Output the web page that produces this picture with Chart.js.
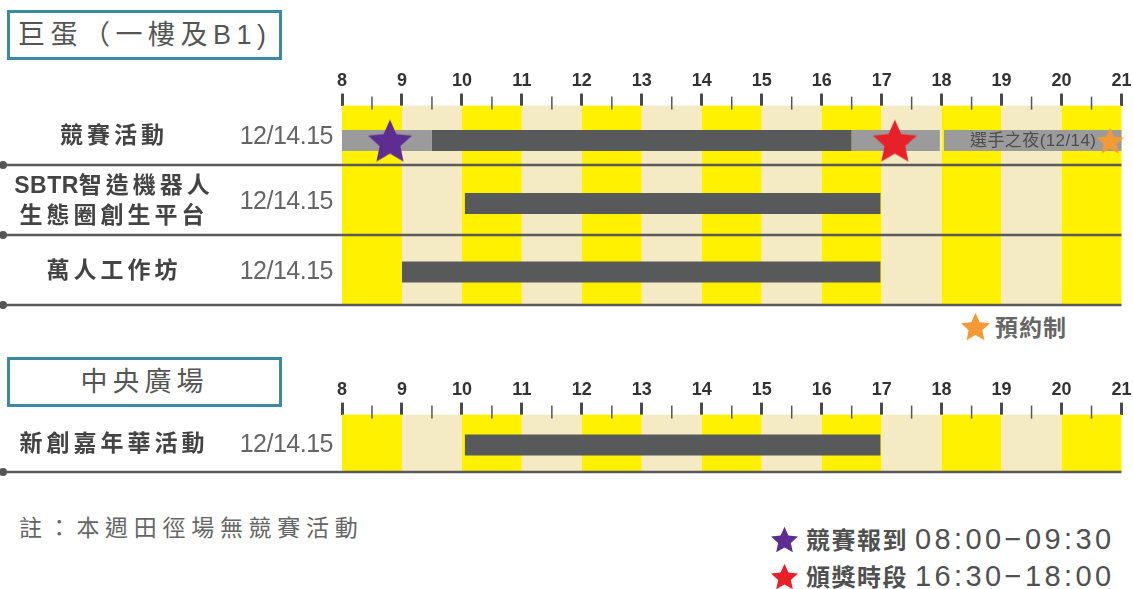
<!DOCTYPE html>
<html><head><meta charset="utf-8">
<script src="https://cdn.jsdelivr.net/npm/chart.js@4"></script>
<style>
html,body{margin:0;padding:0;background:#fff;}
body{width:1133px;height:589px;position:relative;overflow:hidden;font-family:"Liberation Sans","Noto Sans CJK TC",sans-serif;}
.abs{position:absolute;white-space:nowrap;}
.box{position:absolute;left:7px;width:269px;height:44px;border:3px solid #3b8aa2;color:#555;font-family:"Liberation Sans","Noto Sans CJK TC",sans-serif;font-size:27px;line-height:44px;}
canvas.chart{position:absolute;left:0;}
.name{position:absolute;left:0;width:228px;text-align:center;font-weight:bold;font-size:23px;letter-spacing:4px;color:#444;line-height:30px;white-space:nowrap;}
.name .lat{letter-spacing:0.5px;}
.date{position:absolute;right:800px;font-size:25px;letter-spacing:-0.5px;color:#666;line-height:30px;white-space:nowrap;}
.leg{position:absolute;left:771px;color:#505050;white-space:nowrap;line-height:30px;}
.leg b{font-weight:bold;font-size:24px;letter-spacing:1.5px;}
.leg span{font-size:29px;letter-spacing:3.4px;margin-left:7px;}
</style>
</head><body>

<div class="box" style="top:10px;"><span style="padding-left:8px;letter-spacing:5.5px;">巨蛋（一樓及B1)</span></div>
<div class="box" style="top:357px;text-align:center;letter-spacing:5px;">中央廣場</div>

<canvas id="top" class="chart" width="1133" height="250" style="top:60px;"></canvas>
<canvas id="bottom" class="chart" width="1133" height="109" style="top:369px;"></canvas>

<div class="abs" style="left:961px;top:312px;font-size:23px;font-weight:bold;color:#666;line-height:30px;letter-spacing:1px;"><canvas id="starReserve" width="29" height="29" style="vertical-align:-5px;margin-right:5px;"></canvas>預約制</div>

<div class="abs" style="left:19px;top:513px;font-size:23px;color:#666;letter-spacing:5.7px;line-height:30px;">註：本週田徑場無競賽活動</div>

<div class="leg" style="top:524px;"><canvas id="starCheck" width="27" height="27" style="vertical-align:-4px;margin-right:8px;"></canvas><b>競賽報到</b><span>08:00−09:30</span></div>
<div class="leg" style="top:561px;"><canvas id="starAward" width="27" height="27" style="vertical-align:-4px;margin-right:8px;"></canvas><b>頒獎時段</b><span>16:30−18:00</span></div>

<script>
// ---------- data ----------
const hourTicks = [8, 9, 10, 11, 12, 13, 14, 15, 16, 17, 18, 19, 20, 21];
const topRows = ['競賽活動', 'SBTR智造機器人|生態圈創生平台', '萬人工作坊'];
const topDates = ['12/14.15', '12/14.15', '12/14.15'];
const topBarStart = [9.5, 10.05, 9.0];
const topBarEnd = [16.5, 16.98, 16.98];
const row1ShadeStart = [8, 16.5, 18.04];
const row1ShadeEnd = [9.5, 17.97, 21];
const checkInHour = [8.8];
const awardHour = [17.22];
const reserveHour = [20.81];
const nightLabel = '選手之夜(12/14)';
const nightLabelEnd = 20.58;
const bottomRows = ['新創嘉年華活動'];
const bottomDates = ['12/14.15'];
const bottomBarStart = [10.05];
const bottomBarEnd = [16.98];

// ---------- layout (positions on the row axis) ----------
const topRowY = [0.65, 1.55, 2.53];
const topRowBounds = [[0.15, 1], [1, 2], [2, 3]];
const bottomRowY = [0.53];
const bottomRowBounds = [[0, 1]];

const YELLOW = '#FFF100', BEIGE = '#F4EAC4', DARK = '#58595B', LIGHT = '#9B9B9B';
const PURPLE = '#5E2D91', RED = '#E8202A', ORANGE = '#F39A36';

function drawStar(ctx, cx, cy, R, color) {
  const r = R * 0.47;
  ctx.beginPath();
  for (let i = 0; i < 10; i++) {
    const rad = i % 2 === 0 ? R : r;
    const a = -Math.PI / 2 + i * Math.PI / 5;
    const px = cx + rad * Math.cos(a), py = cy + rad * Math.sin(a);
    if (i === 0) ctx.moveTo(px, py); else ctx.lineTo(px, py);
  }
  ctx.closePath();
  ctx.fillStyle = color;
  ctx.fill();
}
function starCanvas(size, color) {
  const c = document.createElement('canvas');
  c.width = size; c.height = size;
  const R = size / 1.902;
  drawStar(c.getContext('2d'), size / 2, size / 2 + 0.0955 * R, R, color);
  return c;
}
function paintStar(id, color) {
  const c = document.getElementById(id);
  const R = c.width / 1.902;
  drawStar(c.getContext('2d'), c.width / 2, c.height / 2 + 0.0955 * R, R, color);
}
paintStar('starReserve', ORANGE);
paintStar('starCheck', PURPLE);
paintStar('starAward', RED);

const bandsPlugin = {
  id: 'bands',
  beforeDatasetsDraw(chart, args, opts) {
    const { ctx, chartArea: a, scales: { x, y } } = chart;
    ctx.save();
    for (let i = 0; i < hourTicks.length - 1; i++) {
      const x0 = x.getPixelForValue(hourTicks[i]), x1 = x.getPixelForValue(hourTicks[i + 1]);
      ctx.fillStyle = i % 2 === 0 ? YELLOW : BEIGE;
      ctx.fillRect(x0, a.top, x1 - x0, a.bottom - a.top);
    }
    // half-hour minor ticks
    ctx.strokeStyle = '#555';
    ctx.lineWidth = 1.5;
    for (let i = 0; i < hourTicks.length - 1; i++) {
      const px = x.getPixelForValue((hourTicks[i] + hourTicks[i + 1]) / 2);
      ctx.beginPath(); ctx.moveTo(px, a.top - 9); ctx.lineTo(px, a.top + 4); ctx.stroke();
    }
    for (const d of opts.dividers) {
      const py = y.getPixelForValue(d);
      ctx.strokeStyle = '#5a5a5a';
      ctx.lineWidth = 2.5;
      ctx.beginPath(); ctx.moveTo(0, py); ctx.lineTo(a.right, py); ctx.stroke();
      ctx.fillStyle = '#555';
      ctx.beginPath(); ctx.arc(3, py, 4, 0, Math.PI * 2); ctx.fill();
    }
    ctx.restore();
  }
};

function seg(s, e, y, color) {
  return { data: [{ x: s, y: y }, { x: e, y: y }], showLine: true, borderColor: color, backgroundColor: color,
    borderWidth: 21, borderCapStyle: 'butt', pointRadius: 0, tension: 0, clip: false, order: 2 };
}
function stars(hours, y, size, color) {
  return { data: hours.map(h => ({ x: h, y: y })), pointStyle: starCanvas(size, color), pointRadius: size / 2,
    showLine: false, clip: false, order: 0 };
}

function makeOptions(ymin, ymax, dividers, padBottom) {
  return {
    responsive: false, animation: false, events: [],
    layout: { autoPadding: false, padding: { left: 342, right: 10, top: 9, bottom: padBottom } },
    plugins: { legend: { display: false }, tooltip: { enabled: false }, bands: { dividers: dividers } },
    scales: {
      x: {
        type: 'linear', position: 'top', min: hourTicks[0], max: hourTicks[hourTicks.length - 1],
        afterBuildTicks: s => { s.ticks = hourTicks.map(v => ({ value: v })); },
        ticks: { autoSkip: false, maxRotation: 0, padding: 1.5, color: '#333',
          font: { family: 'Liberation Sans', size: 18, weight: 'bold' },
          callback: v => String(v) },
        grid: { drawOnChartArea: false, drawTicks: true, tickLength: 12, color: '#4a4a4a', lineWidth: 3 },
        border: { display: false }
      },
      y: { type: 'linear', display: false, min: ymin, max: ymax, reverse: true }
    }
  };
}

// ---------- top chart ----------
const topSets = [];
row1ShadeStart.forEach((s, i) => topSets.push(seg(s, row1ShadeEnd[i], topRowY[0], LIGHT)));
topBarStart.forEach((s, i) => topSets.push(seg(s, topBarEnd[i], topRowY[i], DARK)));
topSets.push(stars(checkInHour, topRowY[0], 44, PURPLE));
topSets.push(stars(awardHour, topRowY[0], 44, RED));
topSets.push(stars(reserveHour, topRowY[0], 27, ORANGE));

const topChart = new Chart(document.getElementById('top'), {
  type: 'scatter', data: { datasets: topSets },
  options: makeOptions(0.15, 3, [1, 2, 3], 5), plugins: [bandsPlugin]
});

// ---------- bottom chart ----------
const bottomSets = bottomBarStart.map((s, i) => seg(s, bottomBarEnd[i], bottomRowY[i], DARK));
const bottomChart = new Chart(document.getElementById('bottom'), {
  type: 'scatter', data: { datasets: bottomSets },
  options: makeOptions(0, 1, [1], 6), plugins: [bandsPlugin]
});

// ---------- row labels placed from the row scale ----------
function placeLabels(chart, wrapTop, bounds, names, dates) {
  const y = chart.scales.y;
  names.forEach((n, i) => {
    const cy = wrapTop + (y.getPixelForValue(bounds[i][0]) + y.getPixelForValue(bounds[i][1])) / 2;
    const lines = n.split('|');
    const d = document.createElement('div');
    d.className = 'name';
    d.innerHTML = lines.map(l => l.replace(/([A-Za-z]+)/g, '<span class="lat">$1</span>')).join('<br>');
    d.style.top = (cy - lines.length * 15) + 'px';
    document.body.appendChild(d);
    const t = document.createElement('div');
    t.className = 'date';
    t.textContent = dates[i];
    t.style.top = (cy - 15) + 'px';
    document.body.appendChild(t);
  });
}
placeLabels(topChart, 60, topRowBounds, topRows, topDates);
placeLabels(bottomChart, 369, bottomRowBounds, bottomRows, bottomDates);

// night label inside the row-1 bar
(function () {
  const x = topChart.scales.x, y = topChart.scales.y;
  const d = document.createElement('div');
  d.className = 'abs';
  d.textContent = nightLabel;
  d.style.cssText += 'font-size:17px;letter-spacing:0.4px;color:#4d4d4d;line-height:20px;';
  d.style.right = (1133 - x.getPixelForValue(nightLabelEnd)) + 'px';
  d.style.top = (60 + y.getPixelForValue(topRowY[0]) - 10) + 'px';
  document.body.appendChild(d);
})();
</script>
</body></html>
